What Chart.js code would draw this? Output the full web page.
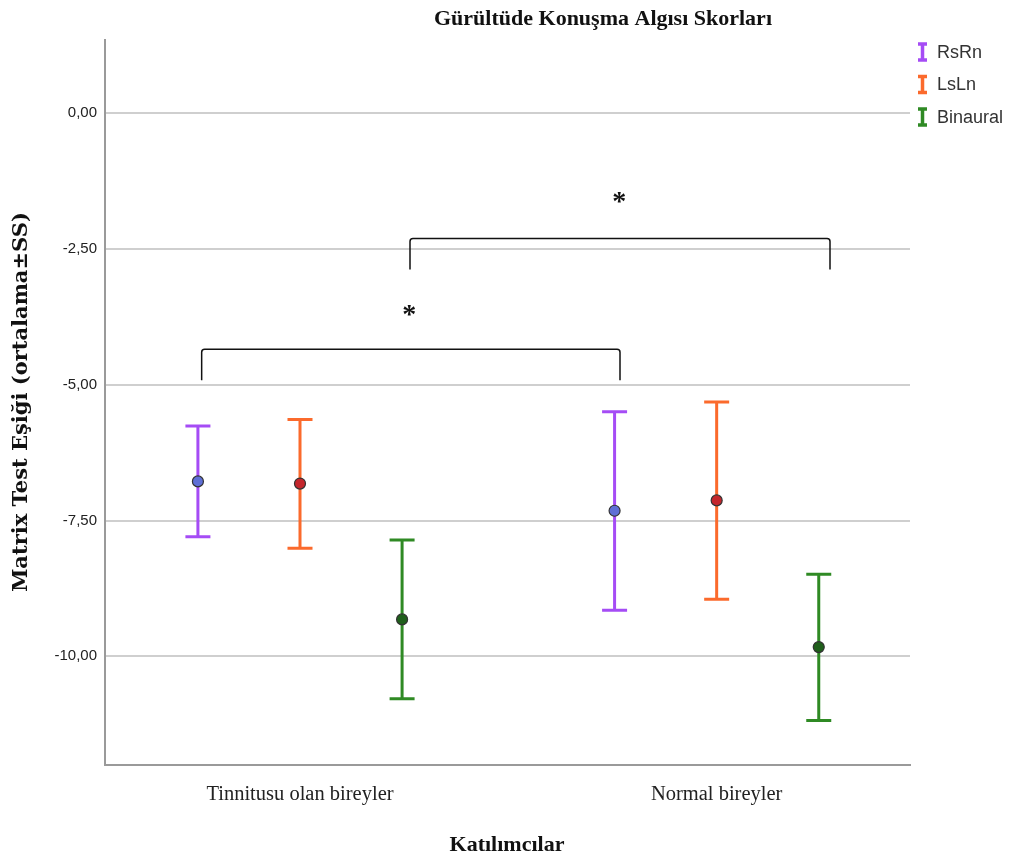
<!DOCTYPE html>
<html>
<head>
<meta charset="utf-8">
<script src="https://cdn.jsdelivr.net/npm/chart.js@4"></script>
<style>
  html, body { margin: 0; padding: 0; background: #fff; }
  #wrap { width: 1013px; height: 862px; }
</style>
</head>
<body>
<div id="wrap"><canvas id="matrixChart"></canvas></div>
<script>
// Gürültüde Konuşma Algısı Skorları - ortalama ± SS

const kategoriler = ['Tinnitusu olan bireyler', 'Normal bireyler'];
const seriler = ['RsRn', 'LsLn', 'Binaural'];
const kaymalar = [-0.245, 0, 0.245];   // grup içindeki konum

const rsrnOrt = [-6.78, -7.32];
const rsrnAlt = [-7.80, -9.15];
const rsrnUst = [-5.76, -5.50];

const lslnOrt = [-6.82, -7.13];
const lslnAlt = [-8.01, -8.95];
const lslnUst = [-5.64, -5.32];

const binOrt = [-9.32, -9.83];
const binAlt = [-10.78, -11.18];
const binUst = [-7.86, -8.49];

const yTikler = [0, -2.5, -5, -7.5, -10];

// anlamlılık parantezleri
const parantezler = [
    { x1: -0.236, x2: 0.768, ust: -4.35, uc: -4.92, yildizX: 0.262, yildizY: -3.63 },
    { x1: 0.264, x2: 1.272, ust: -2.31, uc: -2.88, yildizX: 0.766, yildizY: -1.55 }
];

const cizgiRenk = ['#a54cf5', '#fb6a2c', '#2f8a24'];
const noktaRenk = ['#5f6fd6', '#c4262c', '#1f5f1b'];

const ortalar = [rsrnOrt, lslnOrt, binOrt];
const altlar = [rsrnAlt, lslnAlt, binAlt];
const ustler = [rsrnUst, lslnUst, binUst];

const datasets = seriler.map((ad, i) => ({
    label: ad,
    data: kategoriler.map((k, j) => ({ x: j + kaymalar[i], y: ortalar[i][j] })),
    backgroundColor: noktaRenk[i],
    borderColor: '#333',
    borderWidth: 1.2,
    pointRadius: 5.5,
    pointHoverRadius: 5.5
}));

const hataCubugu = {
    id: 'hataCubugu',
    beforeDatasetsDraw(chart) {
        const ctx = chart.ctx;
        const xs = chart.scales.x, ys = chart.scales.y;
        ctx.save();
        ctx.lineWidth = 3;
        seriler.forEach((ad, i) => {
            ctx.strokeStyle = cizgiRenk[i];
            kategoriler.forEach((k, j) => {
                const px = xs.getPixelForValue(j + kaymalar[i]);
                const a = ys.getPixelForValue(altlar[i][j]);
                const u = ys.getPixelForValue(ustler[i][j]);
                ctx.beginPath();
                ctx.moveTo(px, a); ctx.lineTo(px, u);
                ctx.moveTo(px - 12.5, a); ctx.lineTo(px + 12.5, a);
                ctx.moveTo(px - 12.5, u); ctx.lineTo(px + 12.5, u);
                ctx.stroke();
            });
        });
        ctx.restore();
    },
    afterDraw(chart) {
        const ctx = chart.ctx;
        const xs = chart.scales.x, ys = chart.scales.y;
        ctx.save();
        // parantezler
        ctx.strokeStyle = '#111';
        ctx.lineWidth = 1.5;
        ctx.fillStyle = '#111';
        ctx.textAlign = 'center';
        ctx.textBaseline = 'middle';
        ctx.font = 'bold 28px "Liberation Serif"';
        parantezler.forEach(p => {
            const x1 = xs.getPixelForValue(p.x1), x2 = xs.getPixelForValue(p.x2);
            const yu = ys.getPixelForValue(p.ust), yc = ys.getPixelForValue(p.uc);
            ctx.beginPath();
            ctx.moveTo(x1, yc); ctx.lineTo(x1, yu + 3);
            ctx.quadraticCurveTo(x1, yu, x1 + 3, yu);
            ctx.lineTo(x2 - 3, yu);
            ctx.quadraticCurveTo(x2, yu, x2, yu + 3);
            ctx.lineTo(x2, yc);
            ctx.stroke();
            ctx.fillText('*', xs.getPixelForValue(p.yildizX), ys.getPixelForValue(p.yildizY) + 6);
        });

        // başlık ve eksen başlıkları
        ctx.fillStyle = '#111';
        ctx.font = 'bold 22px "Liberation Serif"';
        ctx.fillText('Gürültüde Konuşma Algısı Skorları', 603, 19);
        ctx.font = 'bold 22px "Liberation Serif"';
        ctx.fillText('Katılımcılar', 507, 845);
        ctx.save();
        ctx.translate(22, 402);
        ctx.rotate(-Math.PI / 2);
        ctx.font = 'bold 21px "DejaVu Serif"';
        ctx.fillText('Matrix Test Eşiği (ortalama±SS)', 0, 0);
        ctx.restore();

        // lejant
        ctx.textAlign = 'left';
        ctx.font = '18px "Liberation Sans"';
        seriler.forEach((ad, i) => {
            const y = 52 + i * 32.5;
            ctx.strokeStyle = cizgiRenk[i];
            ctx.lineWidth = 3.5;
            ctx.beginPath();
            ctx.moveTo(922.5, y - 8); ctx.lineTo(922.5, y + 8);
            ctx.moveTo(918, y - 8); ctx.lineTo(927, y - 8);
            ctx.moveTo(918, y + 8); ctx.lineTo(927, y + 8);
            ctx.stroke();
            ctx.fillStyle = '#333';
            ctx.fillText(ad, 937, y + 1);
        });
        ctx.restore();
    }
};

new Chart(document.getElementById('matrixChart').getContext('2d'), {
    type: 'scatter',
    data: { datasets: datasets },
    options: {
        responsive: true,
        maintainAspectRatio: false,
        animation: false,
        layout: { padding: { left: 0, right: 103, top: 40, bottom: 0 } },
        plugins: {
            legend: { display: false },
            tooltip: { enabled: false }
        },
        scales: {
            x: {
                type: 'linear',
                min: -0.468,
                max: 1.464,
                afterBuildTicks(scale) {
                    scale.ticks = kategoriler.map((k, j) => ({ value: j }));
                },
                afterFit(scale) { scale.height = 97; },
                ticks: {
                    callback: (v) => kategoriler[v] || '',
                    font: { family: 'Liberation Serif', size: 20.5 },
                    color: '#222',
                    padding: 17,
                    maxRotation: 0
                },
                grid: { display: false, drawTicks: false },
                border: { display: true, color: '#9a9a9a', width: 2 }
            },
            y: {
                min: -12.0,
                max: 1.344,
                afterBuildTicks(scale) {
                    scale.ticks = yTikler.map(v => ({ value: v }));
                },
                afterFit(scale) { scale.width = 105; },
                ticks: {
                    callback: (v) => v.toFixed(2).replace('.', ','),
                    font: { family: 'Liberation Sans', size: 15 },
                    color: '#222',
                    padding: 8
                },
                grid: { color: '#cfcfcf', lineWidth: 2, drawTicks: false },
                border: { display: true, color: '#9a9a9a', width: 2 }
            }
        }
    },
    plugins: [hataCubugu]
});
</script>
</body>
</html>
